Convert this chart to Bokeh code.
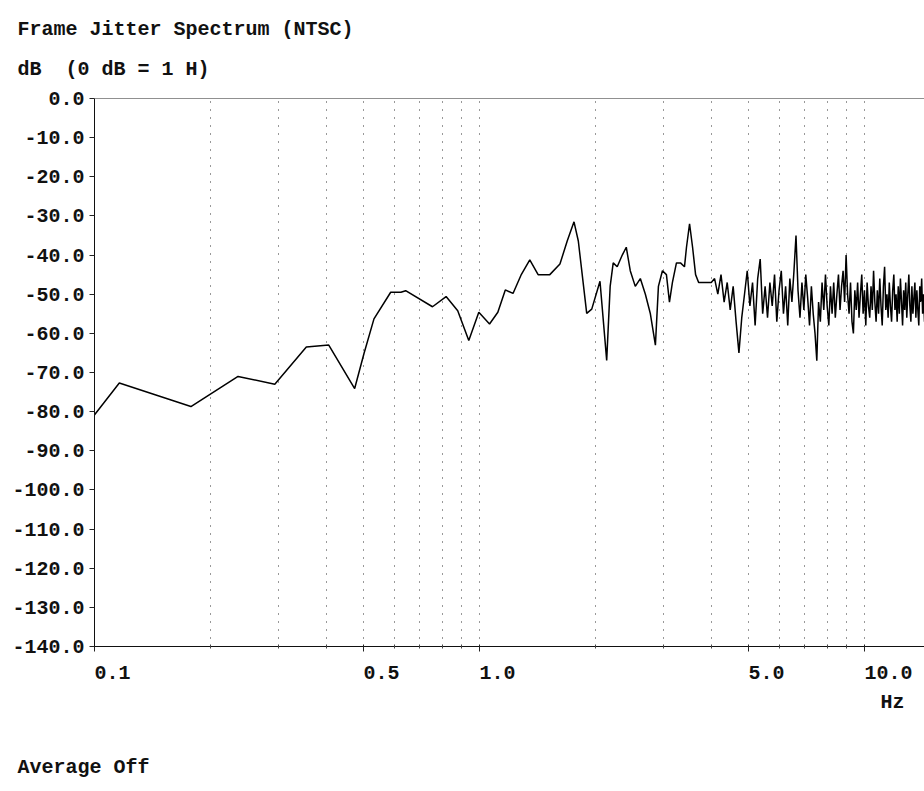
from bokeh.plotting import figure
from bokeh.models import (FixedTicker, PrintfTickFormatter, CustomJSTickFormatter,
                          Title, Span, Range1d)
from bokeh.embed import file_html
from bokeh.resources import INLINE

FONT = "Liberation Mono"

# ---- data (Hz, dB) ----
freq_low = [0.0982, 0.116, 0.178, 0.236, 0.294, 0.355, 0.406, 0.474, 0.501, 0.532,
            0.588, 0.625, 0.643, 0.755, 0.819, 0.878, 0.938, 0.996, 1.062, 1.116,
            1.167, 1.222, 1.285, 1.351, 1.420, 1.523, 1.618, 1.690, 1.76, 1.806,
            1.899, 1.957, 2.056, 2.14,
            2.185, 2.225, 2.279, 2.349, 2.406, 2.464, 2.539, 2.617, 2.697, 2.779,
            2.864, 2.916, 2.987, 3.059, 3.115, 3.171, 3.248, 3.327, 3.408, 3.449,
            3.513, 3.577, 3.642, 3.709, 3.799, 3.891]
db_low = [-81.8, -72.7, -78.7, -71.0, -73.0, -63.5, -63.0, -74.1, -65.2, -56.3,
          -49.5, -49.5, -49.1, -53.2, -50.6, -54.2, -61.8, -54.6, -57.6, -54.6,
          -48.9, -49.8, -44.9, -41.2, -45.0, -45.0, -42.3, -36.4, -31.5, -36.4,
          -54.9, -53.8, -46.7, -66.9,
          -48, -42, -43, -40, -38, -44, -48, -46, -50, -55,
          -63, -48, -44, -45, -52, -47, -42, -42, -43, -38,
          -32, -38, -45, -47, -47, -47]

freq_high = [4.00, 4.08, 4.16, 4.24, 4.32, 4.40, 4.48, 4.56, 4.64, 4.72,
             4.80, 4.88, 4.96, 5.04, 5.12, 5.20, 5.28, 5.36, 5.44, 5.52,
             5.60, 5.68, 5.76, 5.84, 5.92, 6.00, 6.08, 6.16, 6.24, 6.32,
             6.40, 6.48, 6.56, 6.64, 6.72, 6.80, 6.88, 6.96, 7.04, 7.12,
             7.20, 7.28, 7.36, 7.44, 7.52, 7.60, 7.68, 7.76, 7.84, 7.92,
             8.00, 8.08, 8.16, 8.24, 8.32, 8.40, 8.48, 8.56, 8.64, 8.72,
             8.80, 8.88, 8.96, 9.04, 9.12, 9.20, 9.28, 9.36, 9.44, 9.52,
             9.60, 9.68, 9.76, 9.84, 9.92, 10.00, 10.08, 10.16, 10.24, 10.32,
             10.40, 10.48, 10.56, 10.64, 10.72, 10.80, 10.88, 10.96, 11.04, 11.12,
             11.20, 11.28, 11.36, 11.44, 11.52, 11.60, 11.68, 11.76, 11.84, 11.92,
             12.00, 12.08, 12.16, 12.24, 12.32, 12.40, 12.48, 12.56, 12.64, 12.72,
             12.80, 12.88, 12.96, 13.04, 13.12, 13.20, 13.28, 13.36, 13.44, 13.52,
             13.60, 13.68, 13.76, 13.84, 13.92, 14.00, 14.08, 14.16, 14.24, 14.32, 14.40]
db_high = [-47, -46, -50, -45, -52, -47, -54, -48, -57, -65,
           -56, -50, -44, -53, -47, -58, -46, -41, -55, -48,
           -56, -47, -53, -45, -57, -49, -44, -55, -48, -58,
           -46, -52, -44, -35, -49, -56, -47, -54, -45, -51,
           -58, -48, -55, -60, -67, -52, -57, -47, -54, -45,
           -53, -58, -48, -55, -47, -56, -50, -45, -54, -48,
           -44, -52, -40, -50, -55, -47, -57, -60, -49, -54,
           -47, -56, -50, -45, -55, -49, -58, -47, -53, -56,
           -48, -54, -44, -52, -57, -49, -55, -46, -53, -58,
           -48, -43, -54, -50, -56, -47, -53, -57, -49, -45,
           -54, -50, -57, -48, -55, -46, -52, -58, -49, -54,
           -47, -56, -50, -45, -53, -57, -48, -55, -51, -47,
           -56, -49, -54, -58, -48, -52, -46, -55, -50, -57, -48]

x_major_ticks = [0.1, 0.5, 1.0, 5.0, 10.0]
x_grid_ticks = [0.2, 0.3, 0.4, 0.5, 0.6, 0.7, 0.8, 0.9, 1.0,
                2.0, 3.0, 4.0, 5.0, 6.0, 7.0, 8.0, 9.0, 10.0]
y_ticks = [0, -10, -20, -30, -40, -50, -60, -70, -80, -90, -100, -110, -120, -130, -140]

title_text = "Frame Jitter Spectrum (NTSC)"
y_unit_text = "dB\u00a0 (0 dB = 1 H)"
x_unit_text = "Hz"
footer_text = "Average Off"

p = figure(width=924, height=791, title=None, x_axis_type="log",
           x_range=Range1d(0.1, 14.32), y_range=Range1d(-140, 0),
           output_backend="svg", toolbar_location=None,
           min_border_left=94, min_border_right=0, min_border_top=98,
           min_border_bottom=145)
p.outline_line_color = None
p.background_fill_color = "white"
p.border_fill_color = "white"

# axes
for ax in (p.xaxis[0], p.yaxis[0]):
    ax.axis_line_color = "#111111"
    ax.axis_line_width = 1
    ax.major_tick_line_color = "#222222"
    ax.major_label_text_font = FONT
    ax.major_label_text_font_style = "bold"
    ax.major_label_text_font_size = "20px"
    ax.major_label_text_color = "#111111"

p.xaxis.ticker = FixedTicker(ticks=x_major_ticks,
                             minor_ticks=[t for t in x_grid_ticks if t not in x_major_ticks])
p.xaxis.formatter = CustomJSTickFormatter(code="return tick.toFixed(1);")
p.xaxis.major_label_orientation = -1e-6   # left-aligned labels at their tick
p.xaxis.major_tick_out = 5
p.xaxis.major_tick_in = 2
p.xaxis.minor_tick_out = 2
p.xaxis.minor_tick_in = 2
p.xaxis.minor_tick_line_color = "#444444"
p.xaxis.major_label_standoff = 21

p.yaxis.ticker = FixedTicker(ticks=y_ticks, minor_ticks=[])
p.yaxis.formatter = PrintfTickFormatter(format="%.1f")
p.yaxis.major_tick_out = 5
p.yaxis.major_tick_in = 0
p.yaxis.minor_tick_line_color = None
p.yaxis.major_label_standoff = 5

# grid
p.ygrid.grid_line_color = None
p.xgrid.ticker = FixedTicker(ticks=x_grid_ticks)
p.xgrid.grid_line_color = "#333333"
p.xgrid.grid_line_width = 1
p.xgrid.grid_line_dash = "1 7"

# top border line at 0 dB
p.add_layout(Span(location=0, dimension="width", line_color="#222222", line_width=1))

# data
p.line(freq_low + freq_high, db_low + db_high, line_color="black", line_width=1.5)

# texts as titles in the side panels (panels stack outward from the frame)
def make_title(txt, offset, standoff):
    return Title(text=txt, align="left", offset=offset, standoff=standoff,
                 text_font=FONT, text_font_style="bold", text_font_size="20px",
                 text_color="#111111")

def spacer(standoff):
    return Title(text=" ", standoff=standoff, text_font_size="1px", text_color="white")

p.add_layout(spacer(14.5), "above")
p.add_layout(make_title(y_unit_text, -77, 0), "above")
p.add_layout(spacer(12), "above")
p.add_layout(make_title(title_text, -77, 0), "above")

p.add_layout(make_title(x_unit_text, 786, 1), "below")
p.add_layout(spacer(35.5), "below")
p.add_layout(make_title(footer_text, -77, 0), "below")

open("out.html", "w").write(file_html(p, INLINE))
